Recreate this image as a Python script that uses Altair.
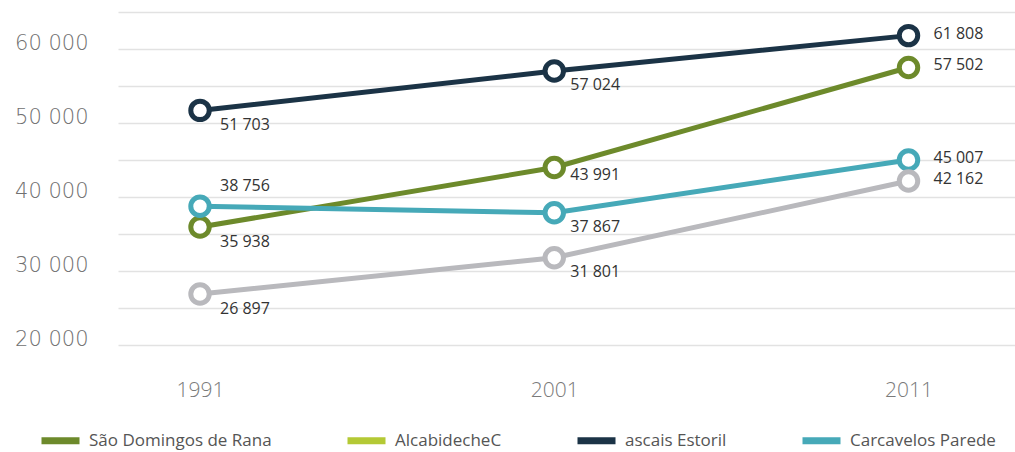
import altair as alt
import pandas as pd

years = [1991, 2001, 2011]
sao_domingos = [35938, 43991, 57502]
cascais_estoril = [51703, 57024, 61808]
carcavelos_parede = [38756, 37867, 45007]
alcabideche = [26897, 31801, 42162]

series_names = ["São Domingos de Rana", "AlcabidecheC", "ascais Estoril", "Carcavelos Parede", "Alcabideche"]
series_colors = ["#6d8a2b", "#b4c935", "#1b3346", "#46a9b8", "#b9b9bd"]
legend_names = series_names[:4]

series_values = {
    "São Domingos de Rana": sao_domingos,
    "ascais Estoril": cascais_estoril,
    "Carcavelos Parede": carcavelos_parede,
    "Alcabideche": alcabideche,
}

rows = []
for name, vals in series_values.items():
    for yr, v in zip(years, vals):
        rows.append({"series": name, "year": yr, "value": v,
                     "label": f"{v:,}".replace(",", " ")})
df = pd.DataFrame(rows)

color_scale = alt.Scale(domain=series_names, range=series_colors)
x_enc = alt.X("year:Q", scale=alt.Scale(domain=[1988.685, 2014.006], nice=False, zero=False),
              axis=alt.Axis(values=years, format="d", title=None, grid=False, domain=False,
                            ticks=False, labelFontSize=21, labelColor="#7a7a7a", labelFont="Open Sans",
                            labelFontWeight=300, labelPadding=34, labelBaseline="top"))
y_enc = alt.Y("value:Q", scale=alt.Scale(domain=[20000, 65000], nice=False, zero=False),
              axis=alt.Axis(values=list(range(20000, 65001, 5000)), title=None, domain=False,
                            ticks=False, grid=True, gridColor="#e2e2e2", gridWidth=1.5,
                            labelExpr="datum.value % 10000 == 0 ? replace(format(datum.value, ','), ',', ' ') : ''",
                            labelFontSize=21, labelColor="#707070", labelFont="DejaVu Sans",
                            labelFontWeight=200, labelPadding=30, labelBaseline="alphabetic"))

base = alt.Chart(df)

lines = base.mark_line(strokeWidth=5).encode(
    x=x_enc, y=y_enc,
    color=alt.Color("series:N", scale=color_scale, sort=series_names,
                    legend=alt.Legend(values=legend_names, title=None)),
    order=alt.Order("year:Q"),
)

points = base.mark_point(shape="circle", size=340, strokeWidth=5, filled=False, opacity=1).encode(
    x=x_enc, y=y_enc,
    stroke=alt.Stroke("series:N", scale=color_scale, legend=None),
    fill=alt.value("white"),
)

text_style = dict(align="left", baseline="middle", fontSize=16, color="#333333", font="Open Sans")

lbl_2011 = base.transform_filter("datum.year == 2011").mark_text(dx=25, dy=-2, **text_style).encode(
    x=x_enc, y=y_enc, text="label:N")
lbl_1991 = base.transform_filter("datum.year == 1991 && datum.value != 38756").mark_text(
    dx=20, dy=15, **text_style).encode(x=x_enc, y=y_enc, text="label:N")
lbl_1991_up = base.transform_filter("datum.year == 1991 && datum.value == 38756").mark_text(
    dx=20, dy=-20, **text_style).encode(x=x_enc, y=y_enc, text="label:N")
lbl_2001 = base.transform_filter("datum.year == 2001 && datum.value != 43991").mark_text(
    dx=16, dy=14, **text_style).encode(x=x_enc, y=y_enc, text="label:N")
lbl_2001_mid = base.transform_filter("datum.year == 2001 && datum.value == 43991").mark_text(
    dx=16, dy=8, **text_style).encode(x=x_enc, y=y_enc, text="label:N")

chart = alt.layer(lines, points, lbl_2011, lbl_1991, lbl_1991_up, lbl_2001, lbl_2001_mid).properties(
    width=897, height=333,
    autosize=alt.AutoSizeParams(type="none"),
    padding={"left": 118, "top": 12, "right": 0, "bottom": 107},
).configure_view(stroke=None).configure_legend(
    orient="none", legendX=-80, legendY=406, direction="horizontal", columns=4,
    symbolType="stroke", symbolStrokeWidth=7, symbolSize=1444, labelFontSize=17,
    labelFont="Open Sans", labelColor="#555555", labelOffset=6, columnPadding=61, padding=0,
    labelLimit=300, labelBaseline="middle",
)

chart.save("out.html", embed_options={"renderer": "svg", "actions": False})
